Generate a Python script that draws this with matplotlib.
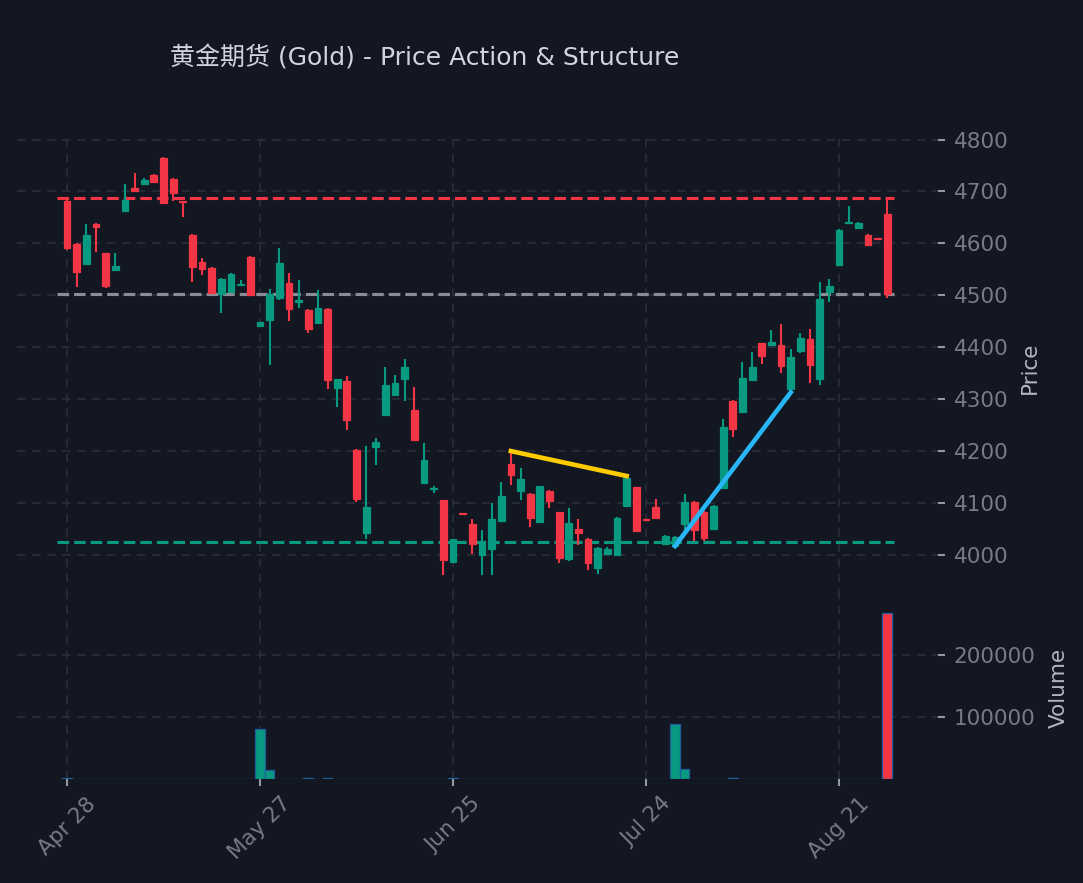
import matplotlib
matplotlib.use("Agg")
import matplotlib.pyplot as plt
import numpy as np

# OHLC, one bar per trading session
opens  = [4682,4599,4561,4638,4581,4548,4663,4707,4715,4732,4765,4724,4681,4617,4565,4553,4502,4507,4519,4574,
          4440,4453,4494,4524,4488,4472,4447,4474,4322,4334,4202,4042,4207,4270,4308,4338,4280,4138,4127,4105,
          3987,4080,4059,4000,4011,4066,4176,4124,4117,4064,4123,4082,3993,4050,4030,3974,4002,4000,4095,4130,
          4068,4092,4022,4017,4059,4102,4083,4050,4128,4297,4276,4337,4408,4405,4405,4319,4393,4416,4339,4507,
          4558,4639,4630,4617,4610,4657]
highs  = [4688,4601,4637,4639,4582,4581,4714,4736,4725,4733,4766,4725,4682,4618,4571,4554,4533,4542,4530,4575,
          4449,4513,4592,4542,4529,4473,4510,4475,4339,4344,4204,4210,4225,4361,4346,4377,4323,4215,4132,4106,
          4031,4081,4069,4048,4100,4140,4200,4167,4119,4133,4125,4083,4090,4069,4032,4015,4015,4073,4153,4131,
          4069,4108,4038,4036,4117,4103,4084,4096,4261,4298,4371,4390,4409,4434,4444,4396,4428,4435,4525,4531,
          4627,4671,4641,4618,4611,4686]
lows   = [4588,4516,4560,4583,4514,4547,4662,4698,4714,4717,4677,4681,4651,4526,4539,4504,4466,4506,4518,4499,
          4439,4365,4490,4450,4476,4428,4446,4320,4285,4240,4101,4031,4173,4269,4307,4297,4221,4136,4119,3962,
          3986,4078,4002,3962,3962,4063,4135,4106,4053,4063,4091,3985,3988,4019,3971,3963,4001,3999,4094,4045,
          4067,4071,4021,4016,4040,4026,4026,4049,4127,4228,4274,4336,4367,4404,4351,4313,4388,4331,4328,4487,
          4557,4637,4629,4596,4609,4495]
closes = [4592,4545,4616,4631,4517,4557,4684,4700,4722,4718,4678,4697,4679,4554,4551,4505,4532,4541,4521,4500,
          4448,4502,4563,4474,4490,4436,4476,4337,4338,4259,4107,4092,4217,4328,4332,4361,4222,4183,4129,3990,
          4030,4079,4021,4026,4069,4113,4153,4146,4071,4132,4103,3995,4061,4043,3984,4013,4011,4072,4148,4046,
          4067,4072,4037,4035,4101,4048,4032,4095,4247,4242,4341,4362,4383,4411,4363,4381,4418,4365,4492,4518,
          4626,4641,4639,4597,4609,4503]
volumes = [1500,0,0,0,0,0,0,0,0,0,0,0,0,300,300,300,300,0,0,300,
           80600,14500,300,0,0,1800,0,2200,0,300,300,300,300,300,0,300,300,300,0,0,
           1500,300,300,300,300,0,300,0,0,0,0,300,300,0,300,0,0,0,0,0,
           0,0,0,88700,16000,300,300,0,300,1500,0,300,0,300,300,300,300,300,300,0,
           300,300,300,300,300,267700]

tick_pos = [0, 20, 40, 60, 80]
tick_labels = ["Apr 28", "May 27", "Jun 25", "Jul 24", "Aug 21"]

resistance = 4688
pivot = 4502
support = 4025
yellow_line = ([46, 58], [4200, 4152])
blue_line = ([63, 75], [4017, 4313])

bg = "#131722"
up, down = "#089981", "#f23645"
grid_c = "#2a2e39"
tick_c = "#787b86"

fig = plt.figure(figsize=(1083 / 150, 883 / 150), dpi=150, facecolor=bg)
ax = fig.add_axes([0.0157, 0.3239, 0.8504, 0.5187], facecolor=bg)
axv = fig.add_axes([0.0157, 0.1178, 0.8504, 0.2061], facecolor=bg, sharex=ax)

x = np.arange(len(opens))
o, h, l, c = map(np.array, (opens, highs, lows, closes))
cols = np.where(c >= o, up, down)

ax.vlines(x, l, h, colors=cols, linewidth=1.0, zorder=3)
body_lo = np.minimum(o, c)
body_h = np.maximum(np.abs(c - o), 1.5)
ax.bar(x, body_h, bottom=body_lo, width=0.7, color=cols, edgecolor=cols, linewidth=0.6, zorder=4)

n = len(x)
ax.hlines(resistance, -1, n - 0.3, colors=down, linestyles="--", linewidth=1.5, zorder=2)
ax.hlines(pivot, -1, n - 0.3, colors="#8a8d96", linestyles="--", linewidth=1.5, zorder=2)
ax.hlines(support, -1, n - 0.3, colors=up, linestyles="--", linewidth=1.5, zorder=2)
ax.plot(*yellow_line, color="#ffcc00", linewidth=2.2, zorder=5)
ax.plot(*blue_line, color="#29b6f6", linewidth=2.2, zorder=5)

axv.bar(x, volumes, width=1.0, color=cols, edgecolor="#1f5f9f", linewidth=0.6)

for a in (ax, axv):
    for s in a.spines.values():
        s.set_visible(False)
    a.grid(True, color=grid_c, linestyle=(0, (5, 4)), linewidth=0.8)
    a.set_axisbelow(True)
    a.yaxis.tick_right()
    a.yaxis.set_label_position("right")
    a.tick_params(axis="y", colors="#9598a1", labelcolor=tick_c, labelsize=10.3, length=3.5, width=1, pad=4)
    a.tick_params(axis="x", colors="#9598a1", labelcolor=tick_c, labelsize=10.3, length=3.5, width=1)

ax.set_xlim(-5.18, 90.26)
ax.set_ylim(3919, 4801)
ax.set_yticks([4000, 4100, 4200, 4300, 4400, 4500, 4600, 4700, 4800])
ax.tick_params(axis="x", labelbottom=False, length=0)
ax.set_ylabel("Price", color="#b2b5be", fontsize=10.3, labelpad=5.5)

axv.set_ylim(0, 293500)
axv.set_yticks([100000, 200000])
axv.set_xticks(tick_pos)
axv.set_xticklabels(tick_labels, rotation=45, ha="center")
axv.set_ylabel("Volume", color="#b2b5be", fontsize=10.3, labelpad=6.5)

fig.text(425 / 1083, 1 - 57.5 / 883, "黄金期货 (Gold) - Price Action & Structure",
         ha="center", va="center", fontsize=12, color="#d1d4dc",
         family=["DejaVu Sans", "Noto Sans CJK SC"])

fig.savefig("out.png", dpi=150, facecolor=bg)
